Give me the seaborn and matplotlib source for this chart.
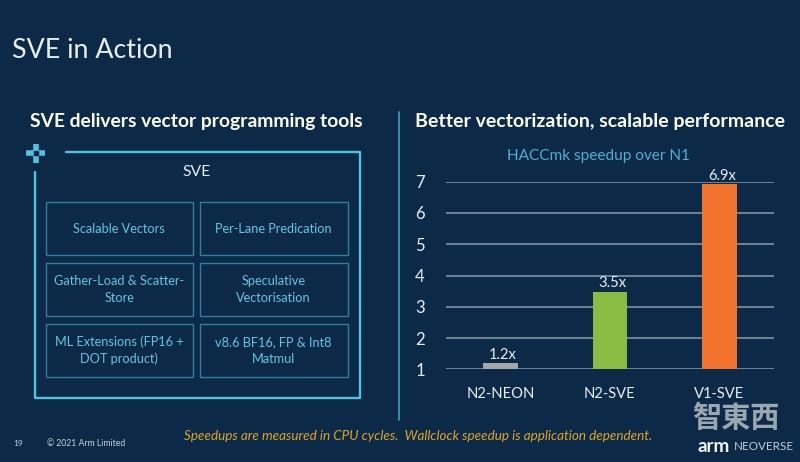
import matplotlib
matplotlib.use('Agg')
import matplotlib.pyplot as plt
import pandas as pd
import seaborn as sns
from matplotlib.patches import Rectangle

chips = ['N2-NEON', 'N2-SVE', 'V1-SVE']
speedup = [1.19, 3.48, 6.92]
speedup_labels = ['1.2x', '3.5x', '6.9x']
bar_colors = ['#A6A6A6', '#8ABB43', '#F1732E']
y_ticks = [1, 2, 3, 4, 5, 6, 7]

box_labels = ['Scalable Vectors', 'Per-Lane Predication',
              'Gather-Load & Scatter-\nStore', 'Speculative\nVectorisation',
              'ML Extensions (FP16 +\nDOT product)', 'v8.6 BF16, FP & Int8\nMatmul']

BG = '#0C2A47'
CYAN = '#4FC3E0'
TEXT_CYAN = '#62C6DF'

sns.set_theme(style='dark')
plt.rcParams['font.family'] = ['Lato', 'DejaVu Sans']

fig = plt.figure(figsize=(8, 4.62), dpi=100, facecolor=BG)

# overlay in pixel coords for the slide furniture
bg = fig.add_axes([0, 0, 1, 1])
bg.set_xlim(0, 800)
bg.set_ylim(462, 0)
bg.axis('off')

bg.text(12, 51, 'SVE in Action', color='#E8EEF3', fontsize=19.3, va='center', ha='left')
bg.text(196, 122, 'SVE delivers vector programming tools', color='white', fontsize=13.9,
        fontweight='bold', va='center', ha='center')
bg.text(600, 122, 'Better vectorization, scalable performance', color='white', fontsize=14,
        fontweight='bold', va='center', ha='center')
bg.plot([399, 399], [112, 420], color='#3E9DBD', lw=1.2)

# outer frame with the gap at the corner
bg.plot([66, 360, 360, 35, 35], [152, 152, 398, 398, 172], color=CYAN, lw=1.7)
bg.plot([26, 45], [153, 153], color=CYAN, lw=4, solid_capstyle='butt')
bg.plot([35.5, 35.5], [144, 163], color=CYAN, lw=4, solid_capstyle='butt')
bg.add_patch(Rectangle((33.5, 151), 4, 4, color=BG, zorder=3))
bg.text(197, 172, 'SVE', color='#E8EEF3', fontsize=11.3, va='center', ha='center')

box_x = [45.5, 200]
box_y = [202, 262.5, 323.5]
for i, label in enumerate(box_labels):
    x = box_x[i % 2]
    y = box_y[i // 2]
    bg.add_patch(Rectangle((x, y), 147.5, 53, fill=False, ec='#2F7F9E', lw=1))
    bg.text(x + 73.7, y + 27, label, color=TEXT_CYAN, fontsize=9.2, va='center', ha='center',
            linespacing=1.45)

bg.text(13, 444, '19', color='#C8D2DA', fontsize=6, va='center')
bg.text(47, 444, '© 2021 Arm Limited', color='#C8D2DA', fontsize=6.2, va='center')
bg.text(418, 436.5, 'Speedups are measured in CPU cycles.  Wallclock speedup is application dependent.',
        color='#E0A526', fontsize=9.7, style='italic', va='center', ha='center')

bg.text(736, 418, '智東西', color='#9AA6B0', fontsize=21, fontweight='bold', va='center', ha='center',
        family=['Noto Sans CJK TC', 'DejaVu Sans'])
bg.text(714, 446, 'arm', color='#F2F4F6', fontsize=13.5, fontweight='bold', va='center', ha='center')
bg.text(764, 446, 'NEOVERSE', color='#C4CCD3', fontsize=8.4, va='center', ha='center')

# chart
ax = fig.add_axes([445.7 / 800, 1 - 369.3 / 462, 328.3 / 800, 187.6 / 462])
ax.set_facecolor('none')
df = pd.DataFrame({'chip': chips, 'speedup': speedup})
sns.barplot(data=df, x='chip', y='speedup', hue='chip', palette=bar_colors, legend=False,
            width=0.316, saturation=1, linewidth=0, ax=ax, zorder=3)
ax.set_ylim(1, 7)
ax.set_xlim(-0.5, 2.5)
ax.set_yticks(y_ticks)
ax.grid(axis='y', color='#8A9BA8', lw=1.1)
ax.grid(axis='x', visible=False)
ax.set_axisbelow(True)
ax.set_xlabel('')
ax.set_ylabel('')
for s in ax.spines.values():
    s.set_visible(False)
ax.tick_params(axis='y', colors='#E8EEF3', labelsize=12, length=0, pad=15)
ax.tick_params(axis='x', colors='#E8EEF3', labelsize=10.6, length=0, pad=13)
for i, label in enumerate(speedup_labels):
    ax.annotate(label, (i, speedup[i]), xytext=(2, 1), textcoords='offset points', color='#E8EEF3',
                fontsize=10.6, ha='center', va='bottom', annotation_clip=False)
ax.set_title('HACCmk speedup over N1', color='#4FAFCF', fontsize=11.1, x=0.465, y=1.0, pad=15.5)

fig.savefig('out.png', dpi=100, facecolor=BG)
